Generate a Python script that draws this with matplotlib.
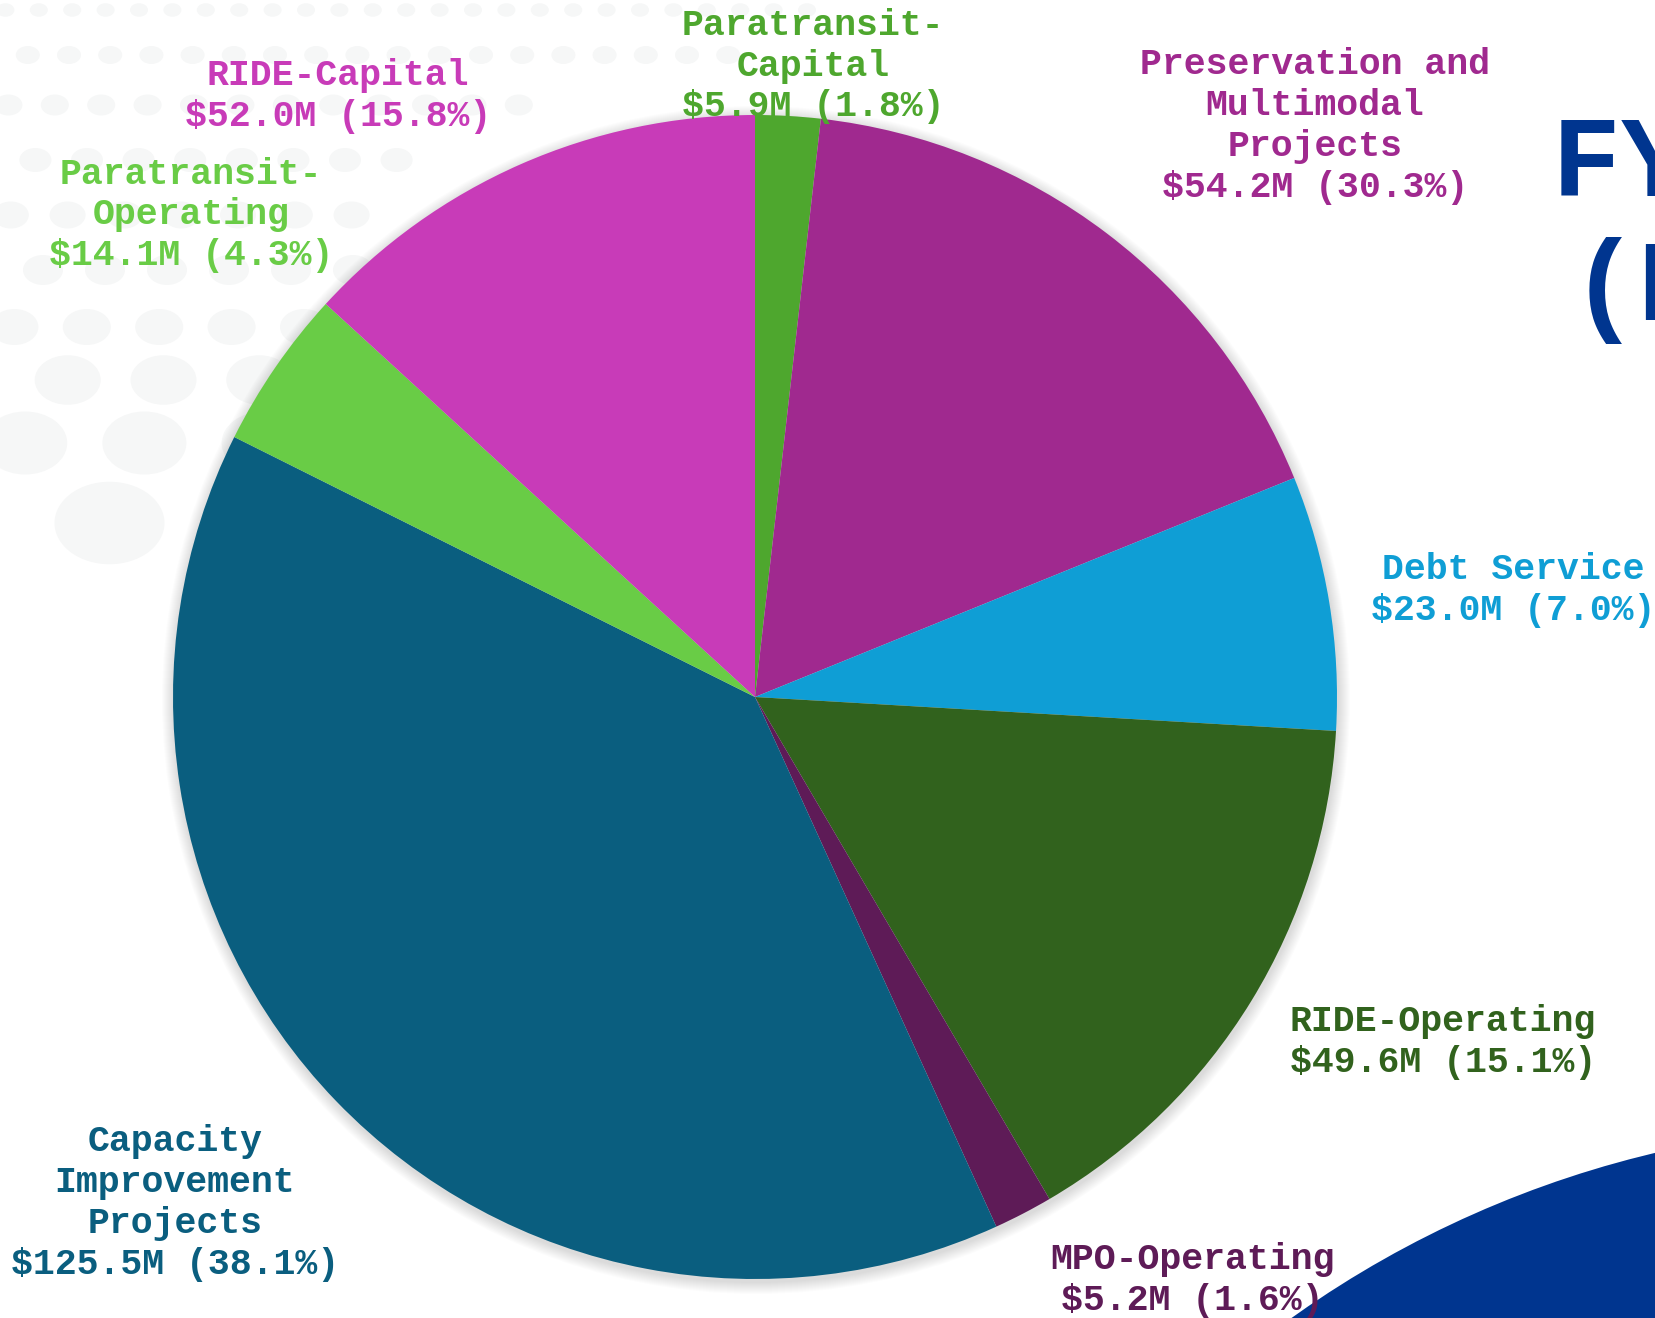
import numpy as np
import matplotlib.pyplot as plt
from matplotlib.patches import Circle, Ellipse

# slices, clockwise from 12 o'clock
categories = ['Paratransit-\nCapital', 'Preservation and\nMultimodal\nProjects', 'Debt Service',
              'RIDE-Operating', 'MPO-Operating', 'Capacity\nImprovement\nProjects',
              'Paratransit-\nOperating', 'RIDE-Capital']
amounts = ['$5.9M', '$54.2M', '$23.0M', '$49.6M', '$5.2M', '$125.5M', '$14.1M', '$52.0M']
shares = ['1.8%', '30.3%', '7.0%', '15.1%', '1.6%', '38.1%', '4.3%', '15.8%']
# slice sizes as drawn ($M)
slice_values = [5.95, 56.2, 23.3, 51.5, 5.4, 129.1, 14.6, 43.5]

colors = ['#4EA72E', '#A0298F', '#0F9ED5', '#31621D', '#5E1B57', '#0A5E7F', '#69CC46', '#C83BB8']
# label block centres (pixels from top-left)
label_xy = [(813, 66), (1315, 126), (1513, 590), (1443, 1042),
            (1192, 1280), (175, 1203), (191, 215), (338, 96)]

W, H = 1656, 1318
cx, cy, R = 755, H - 697, 582
mono = ['Liberation Mono', 'DejaVu Sans Mono']
dark_blue = '#00358F'

fig = plt.figure(figsize=(W / 100, H / 100), dpi=100)
ax = fig.add_axes([0, 0, 1, 1])

# faint halftone dots in the background
dot_rows = [(10, 9, 820), (55, 12, 760), (105, 14, 560), (160, 16, 430), (215, 18, 400),
            (270, 20, 380), (327, 24, 330), (380, 33, 300), (443, 42, 300), (523, 55, 300)]
for i, (y, rx, xmax) in enumerate(dot_rows):
    step = 2.6 * rx + 10
    x = (i % 2) * step / 2 + rx * 0.6
    while x < xmax:
        ax.add_patch(Ellipse((x, H - y), 2 * rx, 1.5 * rx, color='#F6F7F7', lw=0, zorder=0))
        x += step

# big blue circle bottom right
ax.add_patch(Circle((1894, H - 2162), 1037, color=dark_blue, lw=0, zorder=1))

# soft shadow round the pie
for k in range(1, 13):
    ax.add_patch(Circle((cx + 1, cy - 3), R + k, color='k', alpha=0.012, lw=0, zorder=1))

ax.pie(slice_values, colors=colors, startangle=90, counterclock=False,
       center=(cx, cy), radius=R, wedgeprops=dict(linewidth=0, zorder=2))

for name, amt, pct, col, (lx, ly) in zip(categories, amounts, shares, colors, label_xy):
    ax.text(lx, H - ly, f'{name}\n{amt} ({pct})', color=col, family=mono, fontweight='bold',
            fontsize=26.3, ha='center', va='center', linespacing=1.22, zorder=5)

# title, cut off at the right edge as in the slide
ax.text(1552, H - 196, 'FY 2025', color=dark_blue, family=mono, fontweight='bold',
        fontsize=83, ha='left', va='baseline', zorder=5)
ax.text(1570, H - 320, '(Est.)', color=dark_blue, family=mono, fontweight='bold',
        fontsize=83, ha='left', va='baseline', zorder=5)

ax.set_xlim(0, W)
ax.set_ylim(0, H)
ax.set_aspect('equal')
ax.axis('off')
fig.savefig('out.png', dpi=100, facecolor='white')
